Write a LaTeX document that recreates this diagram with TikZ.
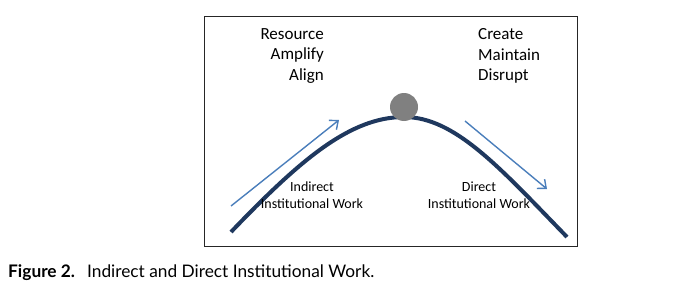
\documentclass[tikz,border=0pt]{standalone}
\usepackage{fontspec}
\setmainfont{Carlito}
\newfontfamily\capfont{Lato}
\usetikzlibrary{arrows.meta}
\definecolor{curvenavy}{RGB}{31,56,94}
\definecolor{arrowblue}{RGB}{74,126,187}
\definecolor{ballgray}{RGB}{128,128,128}
\tikzset{
  frame/.style={draw=black!85, line width=0.9pt},
  hill/.style={draw=curvenavy, line width=4pt},
  motion/.style={draw=arrowblue, line width=1.4pt, -{Straight Barb[length=7pt,width=12pt,line width=1.4pt]}},
  bigtxt/.style={font=\fontsize{17}{21}\selectfont, inner sep=0pt},
  smalltxt/.style={font=\fontsize{14}{17}\selectfont, inner sep=0pt, align=center},
}
\begin{document}
\begin{tikzpicture}[x=1pt,y=-1pt]
\useasboundingbox (0,0) rectangle (673,297);
% outer frame of the diagram
\node[frame, minimum width=373pt, minimum height=230pt, inner sep=0pt, anchor=north west] (box) at (204,16) {};
% the hill
\coordinate (hs) at (231,232);
\coordinate (top) at (404,117);
\coordinate (he) at (567,237);
\draw[hill] (hs) .. controls (300,160) and (350,117) .. (top)
  .. controls (455,117) and (500,168) .. (he);
% ball on the summit
\node[circle, fill=ballgray, minimum size=28pt, inner sep=0pt] (ball) at (404,107) {};
% direction arrows
\coordinate (la0) at (231,206);
\coordinate (la1) at (339,120);
\coordinate (ra0) at (465,121);
\coordinate (ra1) at (547,189);
\draw[motion] (la0) -- (la1);
\draw[motion] (ra0) -- (ra1);
% activity lists
\node[bigtxt, anchor=east] (res) at (324,34) {Resource};
\node[bigtxt, anchor=east] (amp) at (324,55) {Amplify};
\node[bigtxt, anchor=east] (ali) at (324,76) {Align};
\node[bigtxt, anchor=west] (cre) at (478,34) {Create};
\node[bigtxt, anchor=west] (mai) at (478,55) {Maintain};
\node[bigtxt, anchor=west] (dis) at (478,76) {Disrupt};
% curve labels
\node[smalltxt] (ind) at (312,195) {Indirect\\Institutional Work};
\node[smalltxt] (dir) at (479,195) {Direct\\Institutional Work};
% caption
\node[anchor=west, inner sep=0pt, font=\capfont\fontsize{17.3}{20}\selectfont] (cap) at (8,273) {\textbf{Figure 2.}\hspace{0.7em}Indirect and Direct Institutional Work.};
\end{tikzpicture}
\end{document}
